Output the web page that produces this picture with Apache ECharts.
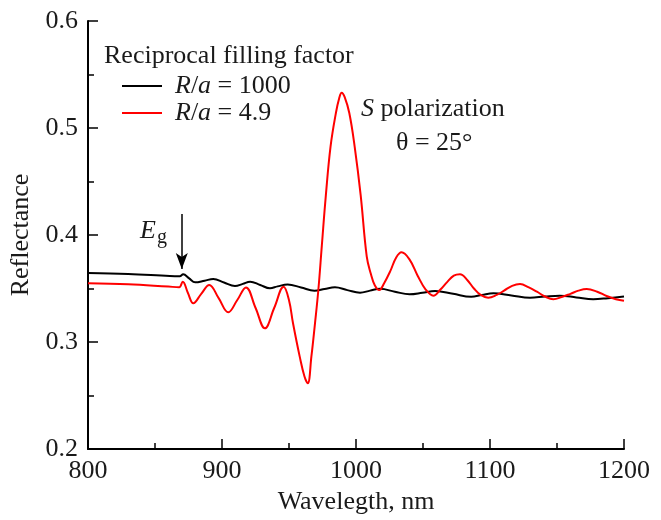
<!DOCTYPE html>
<html>
<head>
<meta charset="utf-8">
<script src="https://cdn.jsdelivr.net/npm/echarts@6/dist/echarts.min.js"></script>
<style>html,body{margin:0;padding:0;background:#fff}#c{width:661px;height:520px}</style>
</head>
<body>
<div id="c"></div>
<script>
// Wavelength (nm) and reflectance for R/a = 1000
const blackWl = [800,830,861,868.5,871,875.5,880,887,893.5,901.5,909.7,915.5,921,928.5,935.8,941.5,949,959,969,976.5,984.3,993.5,1003,1010.5,1018,1029,1040,1049.5,1059,1072.5,1086,1094,1102.5,1116,1129.9,1141,1152,1164.5,1177,1188,1200];
const blackR  = [0.3645,0.3635,0.3617,0.3615,0.3633,0.3595,0.3558,0.3573,0.3589,0.3556,0.3523,0.3543,0.3564,0.3533,0.3502,0.3520,0.3537,0.3510,0.3480,0.3495,0.3511,0.3485,0.3460,0.3480,0.3497,0.3470,0.3446,0.3460,0.3477,0.3450,0.3423,0.3440,0.3455,0.3435,0.3414,0.3425,0.3433,0.3417,0.3400,0.3410,0.3425];
// Wavelength (nm) and reflectance for R/a = 4.9
const redWl = [800,830,860,868,870.7,874.5,878.6,884.5,890.5,897.5,904.7,911.3,917.9,925,932,939,946,950,953,958,961.5,964,966.7,969.4,971.9,974.5,977.5,981,985,987.5,989.3,991.5,995,999,1003.5,1008,1011,1014,1017.4,1021,1025.5,1030,1034,1040,1046,1052,1057.7,1063,1068,1073,1077.6,1083,1088,1093,1098.7,1105,1110.5,1116.5,1122.4,1129,1135,1141,1147.3,1153.5,1160,1166,1172.2,1180,1187,1194,1200];
const redR  = [0.355,0.354,0.3518,0.3512,0.3564,0.346,0.3362,0.345,0.3533,0.341,0.3278,0.339,0.351,0.332,0.3128,0.332,0.3517,0.339,0.3175,0.2863,0.268,0.2614,0.2863,0.3175,0.3486,0.390,0.437,0.4826,0.514,0.528,0.533,0.529,0.514,0.4826,0.437,0.380,0.364,0.353,0.3486,0.355,0.366,0.379,0.3838,0.377,0.362,0.349,0.3433,0.349,0.356,0.362,0.3633,0.358,0.350,0.344,0.3414,0.344,0.348,0.3525,0.3542,0.351,0.347,0.3425,0.340,0.342,0.345,0.348,0.3495,0.347,0.343,0.340,0.3385];
const seriesNames = ['R/a = 1000','R/a = 4.9'];
const xTicks = [800,900,1000,1100,1200];
const yTicks = [0.2,0.3,0.4,0.5,0.6];
const egWl = 870; // arrow marking E_g
const egFrom = 0.4196, egTo = 0.3682;

const FONT = '"Liberation Serif", "Times New Roman", serif';
const FS = 26;
const TXT = '#1a1a1a';
const zip = (a,b)=>a.map((v,i)=>[v,b[i]]);

const chart = echarts.init(document.getElementById('c'));
chart.setOption({
  animation:false,
  backgroundColor:'#fff',
  grid:{left:88,right:37,top:21,bottom:71,outerBoundsMode:'none',containLabel:false},
  xAxis:{
    type:'value',min:xTicks[0],max:xTicks[xTicks.length-1],interval:100,
    name:'Wavelegth, nm',nameLocation:'middle',nameGap:32,
    nameTextStyle:{fontFamily:FONT,fontSize:FS,color:TXT},
    axisLine:{onZero:false,lineStyle:{color:'#000',width:2}},
    axisTick:{inside:true,length:10,lineStyle:{color:'#000',width:1.5}},
    minorTick:{show:true,splitNumber:2,length:6,lineStyle:{color:'#000',width:1.5}},
    axisLabel:{fontFamily:FONT,fontSize:FS,color:TXT,margin:9,formatter:v=>String(v)},
    splitLine:{show:false}
  },
  yAxis:{
    type:'value',min:yTicks[0],max:yTicks[yTicks.length-1],interval:0.1,
    name:'Reflectance',nameLocation:'middle',nameGap:46,
    nameTextStyle:{fontFamily:FONT,fontSize:FS,color:TXT},
    axisLine:{onZero:false,lineStyle:{color:'#000',width:2}},
    axisTick:{inside:true,length:10,lineStyle:{color:'#000',width:1.5}},
    minorTick:{show:true,splitNumber:2,length:6,lineStyle:{color:'#000',width:1.5}},
    axisLabel:{fontFamily:FONT,fontSize:FS,color:TXT,margin:10,formatter:v=>v.toFixed(1)},
    splitLine:{show:false}
  },
  legend:{
    orient:'vertical',left:122,top:73,padding:0,itemWidth:40,itemHeight:2,itemGap:1,
    icon:'rect',
    data:seriesNames,
    formatter:n=>{const p=n.split(' = ');return '{sp|}{i|R}/{i|a} = '+p[1];},
    textStyle:{fontFamily:FONT,fontSize:FS,color:TXT,lineHeight:26,
      rich:{sp:{width:8},i:{fontStyle:'italic',fontFamily:FONT,fontSize:FS,color:TXT}}}
  },
  graphic:[
    {type:'text',left:104,top:43,style:{text:'Reciprocal filling factor',font:FS+'px '+FONT,fill:TXT}},
    {type:'text',left:361,top:96,style:{text:'{i|S} polarization',font:FS+'px '+FONT,fill:TXT,
      rich:{i:{fontStyle:'italic',fontFamily:FONT,fontSize:FS,fill:TXT}}}},
    {type:'text',left:396,top:130,style:{text:'θ = 25°',font:FS+'px '+FONT,fill:TXT}},
    {type:'text',left:140,top:218,style:{text:'{e|E}{g|g}',font:FS+'px '+FONT,fill:TXT,
      rich:{e:{fontStyle:'italic',fontFamily:FONT,fontSize:FS,fill:TXT},
            g:{fontFamily:FONT,fontSize:20,fill:TXT,padding:[14,0,0,1]}}}}
  ],
  series:[
    {name:seriesNames[0],type:'line',data:zip(blackWl,blackR),smooth:0.4,
     showSymbol:false,lineStyle:{color:'#000',width:2},itemStyle:{color:'#000'},z:2,
     markLine:{silent:true,symbol:['none','arrow'],symbolSize:[9,16],label:{show:false},
       lineStyle:{color:'#000',width:1.5,type:'solid'},
       data:[[{coord:[egWl,egFrom]},{coord:[egWl,egTo]}]]}},
    {name:seriesNames[1],type:'line',data:zip(redWl,redR),smooth:0.4,
     showSymbol:false,lineStyle:{color:'#ff0000',width:2},itemStyle:{color:'#ff0000'},z:3}
  ]
});
</script>
</body>
</html>
